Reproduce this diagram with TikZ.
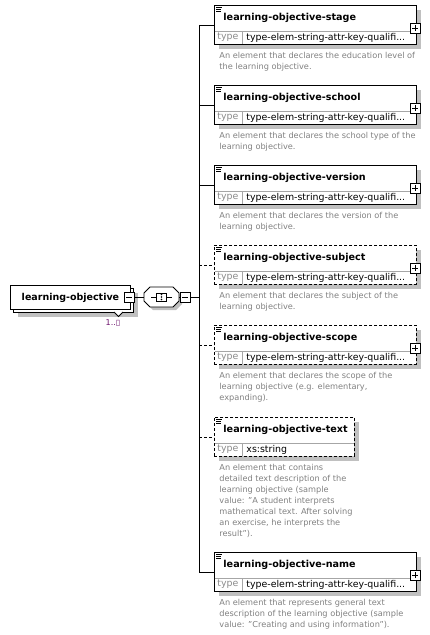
\documentclass[tikz,border=0pt]{standalone}
\usepackage{fontspec}
\setmainfont{DejaVu Sans}
\usepackage{tikz}
\usetikzlibrary{shadows}
\definecolor{shadowgray}{RGB}{192,192,192}
\definecolor{descgray}{RGB}{128,128,128}
\definecolor{multpurple}{RGB}{110,20,110}

\begin{document}
\begin{tikzpicture}[x=1pt, y=-1pt, line width=0.9pt,
    boxshadow/.style={drop shadow={shadow xshift=5pt, shadow yshift=-5pt, fill=shadowgray, opacity=1}},
    elembox/.style={draw, fill=white, anchor=north west, minimum width=202pt, minimum height=39pt, inner sep=0pt, boxshadow,
        path picture={\draw [solid, line width=0.5pt] ([xshift=2pt, yshift=-1.6pt]path picture bounding box.north west) -- ++(6pt, 0pt) ++(-6pt, -1.9pt) -- ++(5pt, 0pt) ++(-5pt, -1.9pt) -- ++(5pt, 0pt);}},
    optbox/.style={elembox, dash pattern=on 3pt off 2pt},
    optline/.style={dash pattern=on 3pt off 2pt},
    sep/.style={draw=black!35, line width=0.8pt},
    headtext/.style={anchor=west, inner sep=0pt, font=\fontsize{9.6}{11}\selectfont\bfseries},
    typetag/.style={anchor=west, inner sep=0pt, text=black!45, font=\fontsize{9.4}{11}\selectfont},
    typetext/.style={anchor=west, inner sep=0pt, font=\fontsize{9.4}{11}\selectfont},
    desc/.style={anchor=north west, inner sep=0pt, align=left, text=descgray, font=\fontsize{8.2}{11}\selectfont},
    plusbox/.style={draw, solid, fill=white, minimum size=10pt, inner sep=0pt,
        path picture={\draw [line width=0.9pt] ([xshift=2pt]path picture bounding box.west) -- ([xshift=-2pt]path picture bounding box.east) ([yshift=2pt]path picture bounding box.south) -- ([yshift=-2pt]path picture bounding box.north);}},
    minusbox/.style={draw, solid, fill=white, minimum size=10pt, inner sep=0pt,
        path picture={\draw [line width=0.9pt] ([xshift=2pt]path picture bounding box.west) -- ([xshift=-2pt]path picture bounding box.east);}},
    rootbox/.style={draw, fill=white, anchor=north west, minimum width=120pt, minimum height=24pt, inner sep=0pt},
    seqbox/.style={minimum width=35pt, minimum height=20pt, inner sep=0pt}]
    \useasboundingbox (0, 0) rectangle (430, 635);
    \coordinate (trunk) at (199, 297);

    \node [rootbox, boxshadow] (root-back) at (13, 288) {};
    \draw [fill=white] (114, 312) -- (118.5, 316.5) -- (123, 312);
    \node [rootbox, font=\fontsize{9.5}{11}\selectfont\bfseries] (root) at (10, 285) {learning-objective};
    \node [minusbox] (root-minus) at (129, 297) {};
    \node [font=\fontsize{8}{10}\selectfont, text=multpurple] (root-mult) at (113, 323) {1..▯};

    \fill [shadowgray] (153, 290) -- (176, 290) -- (182, 296) -- (182, 304) -- (176, 310) -- (153, 310) -- (147, 304) -- (147, 296) -- cycle;
    \filldraw [fill=white] (150, 287) -- (173, 287) -- (179, 293) -- (179, 301) -- (173, 307) -- (150, 307) -- (144, 301) -- (144, 293) -- cycle;
    \node [seqbox] (seq) at (161.5, 297) {};
    \draw (151, 297) -- (172, 297);
    \draw [fill=white, line width=0.7pt] (156.5, 293) rectangle (166.5, 301);
    \fill (161.5, 294.5) circle (0.8) (161.5, 297) circle (0.8) (161.5, 299.5) circle (0.8);
    \node [minusbox] (seq-minus) at (185, 297) {};
    \draw (root-minus) -- (seq);
    \draw (seq) -- (seq-minus);
    \draw (seq-minus) -- (trunk);

    \node [elembox] (stage) at (214, 5) {};
    \draw [sep] (214.5, 31) -- (415.5, 31) (242, 31) -- (242, 44);
    \node [headtext] (stage-title) at (223, 18) {learning-objective-stage};
    \node [typetag] (stage-tag) at (217, 37.5) {type};
    \node [typetext] (stage-type) at (246, 37.5) {type-elem-string-attr-key-qualifi...};
    \node [plusbox] (stage-plus) at (415, 28) {};
    \node [desc] (stage-desc) at (219, 52) {An element that declares the education level of\\the learning objective.};

    \node [elembox] (school) at (214, 85) {};
    \draw [sep] (214.5, 111) -- (415.5, 111) (242, 111) -- (242, 124);
    \node [headtext] (school-title) at (223, 98) {learning-objective-school};
    \node [typetag] (school-tag) at (217, 117.5) {type};
    \node [typetext] (school-type) at (246, 117.5) {type-elem-string-attr-key-qualifi...};
    \node [plusbox] (school-plus) at (415, 108) {};
    \node [desc] (school-desc) at (219, 132) {An element that declares the school type of the\\learning objective.};

    \node [elembox] (version) at (214, 165) {};
    \draw [sep] (214.5, 191) -- (415.5, 191) (242, 191) -- (242, 204);
    \node [headtext] (version-title) at (223, 178) {learning-objective-version};
    \node [typetag] (version-tag) at (217, 197.5) {type};
    \node [typetext] (version-type) at (246, 197.5) {type-elem-string-attr-key-qualifi...};
    \node [plusbox] (version-plus) at (415, 188) {};
    \node [desc] (version-desc) at (219, 212) {An element that declares the version of the\\learning objective.};

    \node [optbox] (subject) at (214, 245) {};
    \draw [sep] (214.5, 271) -- (415.5, 271) (242, 271) -- (242, 284);
    \node [headtext] (subject-title) at (223, 258) {learning-objective-subject};
    \node [typetag] (subject-tag) at (217, 277.5) {type};
    \node [typetext] (subject-type) at (246, 277.5) {type-elem-string-attr-key-qualifi...};
    \node [plusbox] (subject-plus) at (415, 268) {};
    \node [desc] (subject-desc) at (219, 292) {An element that declares the subject of the\\learning objective.};

    \node [optbox] (scope) at (214, 325) {};
    \draw [sep] (214.5, 351) -- (415.5, 351) (242, 351) -- (242, 364);
    \node [headtext] (scope-title) at (223, 338) {learning-objective-scope};
    \node [typetag] (scope-tag) at (217, 357.5) {type};
    \node [typetext] (scope-type) at (246, 357.5) {type-elem-string-attr-key-qualifi...};
    \node [plusbox] (scope-plus) at (415, 348) {};
    \node [desc] (scope-desc) at (219, 372) {An element that declares the scope of the\\learning objective (e.g. elementary,\\expanding).};

    \node [optbox, minimum width=140pt] (text) at (214, 417) {};
    \draw [sep] (214.5, 443) -- (353.5, 443) (242, 443) -- (242, 456);
    \node [headtext] (text-title) at (223, 430) {learning-objective-text};
    \node [typetag] (text-tag) at (217, 449.5) {type};
    \node [typetext] (text-type) at (246, 449.5) {xs:string};
    \node [desc] (text-desc) at (219, 464) {An element that contains\\detailed text description of the\\learning objective (sample\\value: "A student interprets\\mathematical text. After solving\\an exercise, he interprets the\\result").};

    \node [elembox] (name) at (214, 552) {};
    \draw [sep] (214.5, 578) -- (415.5, 578) (242, 578) -- (242, 591);
    \node [headtext] (name-title) at (223, 565) {learning-objective-name};
    \node [typetag] (name-tag) at (217, 584.5) {type};
    \node [typetext] (name-type) at (246, 584.5) {type-elem-string-attr-key-qualifi...};
    \node [plusbox] (name-plus) at (415, 575) {};
    \node [desc] (name-desc) at (219, 599) {An element that represents general text\\description of the learning objective (sample\\value: "Creating and using information").};

    \draw (trunk |- stage.west) -- (trunk |- name.west);
    \draw (trunk |- stage.west) -- (stage.west);
    \draw (trunk |- school.west) -- (school.west);
    \draw (trunk |- version.west) -- (version.west);
    \draw [optline] (trunk |- subject.west) -- (subject.west);
    \draw [optline] (trunk |- scope.west) -- (scope.west);
    \draw [optline] (trunk |- text.west) -- (text.west);
    \draw (trunk |- name.west) -- (name.west);
\end{tikzpicture}
\end{document}
